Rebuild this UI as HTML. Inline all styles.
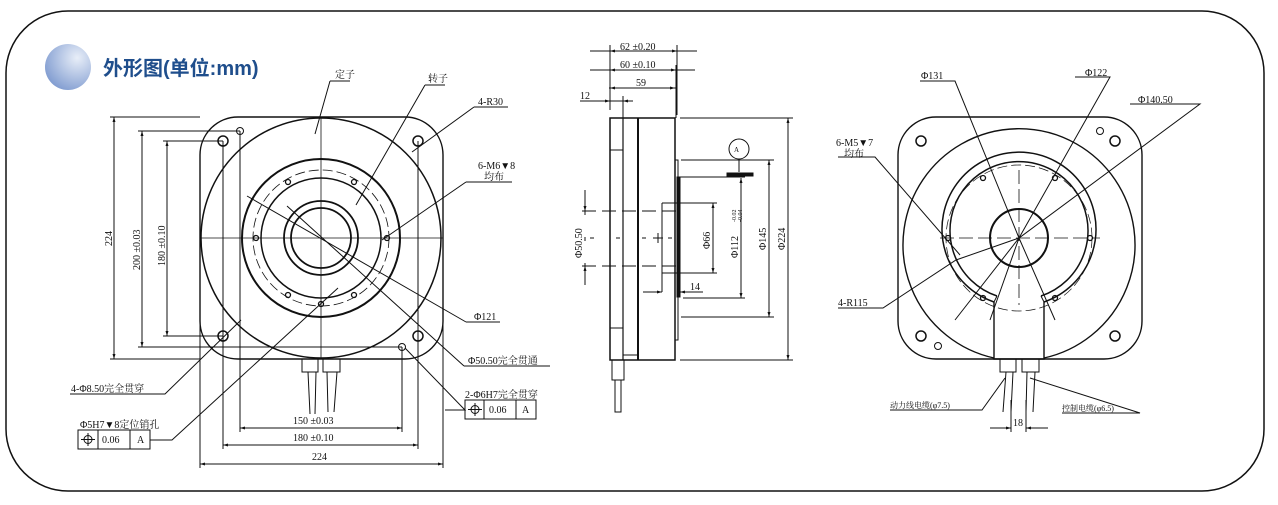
<!DOCTYPE html>
<html><head><meta charset="utf-8"><style>
html,body{margin:0;padding:0;background:#fff;width:1278px;height:505px;overflow:hidden}
svg text{font-family:"Liberation Serif","Noto Serif CJK SC",serif;font-size:10px;fill:#111}
</style></head><body>
<svg width="1278" height="505" viewBox="0 0 1278 505" xmlns="http://www.w3.org/2000/svg">
<defs>
<radialGradient id="g" cx="0.7" cy="0.3" r="0.8"><stop offset="0" stop-color="#e8eef8"/><stop offset="1" stop-color="#7f9bd0"/></radialGradient>
<marker id="a" viewBox="0 0 10 10" refX="10" refY="5" markerWidth="7" markerHeight="5" orient="auto-start-reverse"><path d="M0,2 L10,5 L0,8z" fill="#111"/></marker>
</defs>
<rect x="6" y="11" width="1258" height="480" rx="62" fill="#fff" stroke="#111" stroke-width="1.5"/>
<circle cx="68" cy="67" r="23" fill="url(#g)"/>
<text x="103" y="75" style="font-family:'Liberation Sans','Noto Sans CJK SC',sans-serif;font-size:20px;font-weight:bold;fill:#1f4e8c">外形图(单位:mm)</text>

<g fill="none" stroke="#111" stroke-width="1">
<!-- FRONT VIEW -->
<rect x="200" y="117" width="243" height="242" rx="38" stroke-width="1.4"/>
<circle cx="321" cy="238" r="120" stroke-width="1.5"/>
<circle cx="321" cy="238" r="79" stroke-width="2"/>
<circle cx="321" cy="238" r="60" stroke-width="1.5"/>
<circle cx="321" cy="238" r="68" stroke-dasharray="10 4" stroke-width="0.8"/>
<circle cx="321" cy="238" r="37" stroke-width="1.8"/>
<circle cx="321" cy="238" r="30" stroke-width="1.8"/>
<circle cx="223" cy="141" r="5" stroke-width="1.5"/><circle cx="418" cy="141" r="5" stroke-width="1.5"/>
<circle cx="223" cy="336" r="5" stroke-width="1.5"/><circle cx="418" cy="336" r="5" stroke-width="1.5"/>
<circle cx="240" cy="131" r="3.5"/><circle cx="402" cy="347" r="3.5"/>
<g stroke-width="1.3"><circle cx="288" cy="182" r="2.5"/><circle cx="354" cy="182" r="2.5"/><circle cx="256" cy="238" r="2.5"/><circle cx="387" cy="238" r="2.5"/><circle cx="288" cy="295" r="2.5"/><circle cx="354" cy="295" r="2.5"/><circle cx="321" cy="304" r="2.5"/></g>
<line x1="200" y1="238" x2="443" y2="238" stroke-width="0.8"/>
<line x1="321" y1="117" x2="321" y2="359" stroke-width="0.8"/>
<!-- glands/cables -->
<rect x="302" y="359" width="16" height="13"/><rect x="323" y="359" width="17" height="13"/>
<path d="M308 372 L310 414 M316 372 L315 414 M327 372 L328 412 M337 372 L334 412"/>
<!-- left dims -->
<path d="M110 117 H200 M138 131 H240 M163 141 H223 M163 336 H223 M138 347 H402 M110 359 H200"/>
<line x1="114" y1="117" x2="114" y2="359" marker-start="url(#a)" marker-end="url(#a)"/>
<line x1="142" y1="131" x2="142" y2="347" marker-start="url(#a)" marker-end="url(#a)"/>
<line x1="167" y1="141" x2="167" y2="336" marker-start="url(#a)" marker-end="url(#a)"/>
<!-- bottom dims -->
<path d="M240 131 V432 M402 347 V432 M223 141 V449 M418 141 V449 M200 238 V468 M443 238 V468"/>
<line x1="240" y1="428" x2="402" y2="428" marker-start="url(#a)" marker-end="url(#a)"/>
<line x1="223" y1="445" x2="418" y2="445" marker-start="url(#a)" marker-end="url(#a)"/>
<line x1="200" y1="464" x2="443" y2="464" marker-start="url(#a)" marker-end="url(#a)"/>
<!-- leaders -->
<path d="M330 81 H350 M330 81 L315 134"/>
<path d="M425 85 H445 M425 85 L356 205"/>
<path d="M474 107 H508 M474 107 L412 152" />
<path d="M466 182 H512 M466 182 L382 240"/>
<path d="M466 322 H500 M466 322 L247 196"/>
<path d="M464 366 H550 M464 366 L287 206"/>
<path d="M70 394 H165 L241 320"/>
<path d="M150 440 H172 L338 288"/>
<path d="M445 410 H465 L405 348"/>
<rect x="78" y="430" width="72" height="19"/><path d="M98 430 V449 M130 430 V449"/>
<rect x="465" y="400" width="71" height="19"/><path d="M484 400 V419 M516 400 V419"/>
<circle cx="88" cy="439.5" r="4"/><path d="M81 439.5 H95 M88 433 V446"/>
<circle cx="475" cy="409.5" r="4"/><path d="M468 409.5 H482 M475 403 V416"/>

<!-- SIDE VIEW -->
<rect x="610" y="118" width="65" height="242" stroke-width="1.5"/>
<line x1="623" y1="118" x2="623" y2="360" stroke-width="1.2"/>
<line x1="638" y1="118" x2="638" y2="360" stroke-width="2"/>
<path d="M610 150 H623 M610 328 H623 M623 355 H638"/>
<rect x="675" y="160" width="3" height="180"/>
<rect x="677" y="177" width="3" height="120" fill="#111"/>
<rect x="612" y="360" width="12" height="20"/>
<rect x="615" y="380" width="6" height="32"/>
<path d="M590 51 H697 M590 70 H695 M609 88 H676 M580 101 H633 M610 45 V110 M677 45 V115 M676 65 V118 M623 96 V118"/>
<line x1="610" y1="51" x2="677" y2="51" marker-start="url(#a)" marker-end="url(#a)"/>
<line x1="610" y1="70" x2="676" y2="70" marker-start="url(#a)" marker-end="url(#a)"/>
<line x1="610" y1="88" x2="675" y2="88" marker-start="url(#a)" marker-end="url(#a)"/>
<line x1="602" y1="101" x2="610" y2="101" marker-end="url(#a)"/><line x1="633" y1="101" x2="623" y2="101" marker-end="url(#a)"/>
<path d="M680 118 H793 M680 360 H793 M681 160 H774 M681 317 H774 M680 177 H745 M683 298 H745 M662 203 H717 M662 273 H717 M662 203 V273 M662 273 V292"/>
<line x1="788" y1="118" x2="788" y2="360" marker-start="url(#a)" marker-end="url(#a)"/>
<line x1="769" y1="160" x2="769" y2="317" marker-start="url(#a)" marker-end="url(#a)"/>
<line x1="741" y1="178" x2="741" y2="298" marker-start="url(#a)" marker-end="url(#a)"/>
<line x1="713" y1="203" x2="713" y2="273" marker-start="url(#a)" marker-end="url(#a)"/>
<circle cx="739" cy="149" r="10"/><line x1="739" y1="159" x2="739" y2="172"/>
<rect x="727" y="173" width="26" height="3" fill="#111"/>
<path d="M582 211 H680 M582 266 H680" stroke-dasharray="14 6"/>
<line x1="585" y1="190" x2="585" y2="211" marker-end="url(#a)"/><line x1="585" y1="285" x2="585" y2="266" marker-end="url(#a)"/>
<path d="M585 211 V266 M590 238 H680" stroke-dasharray="4 22"/>
<path d="M658 233 V243 M653 238 H663"/>
<line x1="643" y1="292" x2="662" y2="292" marker-end="url(#a)"/><line x1="703" y1="292" x2="680" y2="292" marker-end="url(#a)"/>

<!-- RIGHT VIEW -->
<rect x="898" y="117" width="244" height="242" rx="38" stroke-width="1.4"/>
<path d="M994 358 A116 116 0 1 1 1044 358" stroke-width="1.4"/>
<path d="M994 302 A77 77 0 1 1 1044 302" stroke-width="1.5"/>
<path d="M997 296 A69 69 0 1 1 1041 296" stroke-width="1.5"/>
<circle cx="1019" cy="238" r="73" stroke-dasharray="10 4" stroke-width="0.7"/>
<path d="M997 296 L994 302 M1041 296 L1044 302"/>
<path d="M994 302 V359 H1044 V302" stroke-width="1.4"/>
<circle cx="1019" cy="238" r="29" stroke-width="2"/>
<circle cx="921" cy="141" r="5" stroke-width="1.5"/><circle cx="1115" cy="141" r="5" stroke-width="1.5"/>
<circle cx="921" cy="336" r="5" stroke-width="1.5"/><circle cx="1115" cy="336" r="5" stroke-width="1.5"/>
<circle cx="1100" cy="131" r="3.5"/><circle cx="938" cy="346" r="3.5"/>
<g stroke-width="1.3"><circle cx="983" cy="178" r="2.5"/><circle cx="1055" cy="178" r="2.5"/><circle cx="948" cy="238" r="2.5"/><circle cx="1090" cy="238" r="2.5"/><circle cx="983" cy="298" r="2.5"/><circle cx="1055" cy="298" r="2.5"/></g>
<path d="M940 238 H1100 M1019 170 V305" stroke-dasharray="14 5" stroke-width="0.8"/>
<rect x="1000" y="359" width="16" height="13"/><rect x="1022" y="359" width="17" height="13"/>
<path d="M1006 372 L1003 412 M1013 372 L1011 412 M1027 372 L1026 412 M1035 372 L1033 412"/>
<path d="M920 81 H955 L1019 238 M1075 77 H1110 L1019 238 M1130 104 H1200 L1019 238 L956 260 L883 308 H838"/>
<path d="M838 157 H875 L960 255"/>
<path d="M1019 238 L955 320 M1019 238 L990 320 M1019 238 L1055 320"/>
<path d="M890 410 H982 L1005 378 M1062 413 H1140 L1030 378"/>
<path d="M1011 400 V432 M1026 400 V432"/>
<line x1="990" y1="428" x2="1011" y2="428" marker-end="url(#a)"/><line x1="1048" y1="428" x2="1026" y2="428" marker-end="url(#a)"/>
</g>

<!-- texts -->
<text x="335" y="78">定子</text>
<text x="428" y="82">转子</text>
<text x="478" y="105">4-R30</text>
<text x="478" y="169">6-M6▼8</text>
<text x="484" y="180">均布</text>
<text x="474" y="320">Φ121</text>
<text x="468" y="364">Φ50.50完全贯通</text>
<text x="71" y="392">4-Φ8.50完全贯穿</text>
<text x="80" y="428">Φ5H7▼8定位销孔</text>
<text x="102" y="443">0.06</text><text x="137" y="443">A</text>
<text x="465" y="398">2-Φ6H7完全贯穿</text>
<text x="489" y="413">0.06</text><text x="522" y="413">A</text>
<text x="293" y="424">150 ±0.03</text>
<text x="293" y="441">180 ±0.10</text>
<text x="312" y="460">224</text>
<text transform="translate(112,246) rotate(-90)">224</text>
<text transform="translate(140,270) rotate(-90)">200 ±0.03</text>
<text transform="translate(165,266) rotate(-90)">180 ±0.10</text>

<text x="620" y="50">62 ±0.20</text>
<text x="620" y="68">60 ±0.10</text>
<text x="636" y="86">59</text>
<text x="580" y="99">12</text>
<text x="734" y="152" style="font-size:7px">A</text>
<text transform="translate(582,258) rotate(-90)">Φ50.50</text>
<text transform="translate(710,249) rotate(-90)">Φ66</text>
<text transform="translate(738,258) rotate(-90)">Φ112</text>
<text transform="translate(736,222) rotate(-90)" style="font-size:6px">-0.02</text>
<text transform="translate(742,222) rotate(-90)" style="font-size:6px">-0.04</text>
<text transform="translate(766,250) rotate(-90)">Φ145</text>
<text transform="translate(785,250) rotate(-90)">Φ224</text>
<text x="690" y="290">14</text>

<text x="921" y="79">Φ131</text>
<text x="1085" y="76">Φ122</text>
<text x="1138" y="103">Φ140.50</text>
<text x="836" y="146">6-M5▼7</text>
<text x="844" y="157">均布</text>
<text x="838" y="306">4-R115</text>
<text x="890" y="408" style="font-size:8px">动力线电缆(φ7.5)</text>
<text x="1062" y="411" style="font-size:8px">控制电缆(φ6.5)</text>
<text x="1013" y="426">18</text>
</svg>
</body></html>
